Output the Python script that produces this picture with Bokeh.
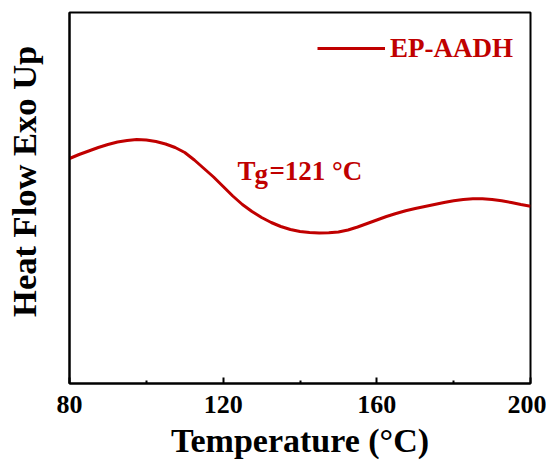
from math import pi
from bokeh.plotting import figure
from bokeh.layouts import row
from bokeh.models import Range1d, FixedTicker, Legend, LegendItem, Label
from bokeh.core.properties import value
from bokeh.embed import file_html
from bokeh.resources import INLINE

# Data (arbitrary heat-flow units, exo up)
temperature = [80, 82.5, 85, 87.5, 90, 92.5, 95, 97.5, 100, 102.5, 105, 107.5,
               110, 112.5, 115, 117.5, 120, 122.5, 125, 127.5, 130, 132.5, 135,
               137.5, 140, 142.5, 145, 147.5, 150, 152.5, 155, 157.5, 160, 162.5,
               165, 167.5, 170, 172.5, 175, 177.5, 180, 182.5, 185, 187.5, 190,
               192.5, 195, 197.5, 200]
heat_flow = [2.25, 2.29, 2.325, 2.36, 2.39, 2.415, 2.43, 2.44, 2.435, 2.42, 2.395,
             2.36, 2.31, 2.235, 2.15, 2.065, 1.97, 1.875, 1.79, 1.72, 1.66, 1.61,
             1.57, 1.54, 1.52, 1.51, 1.505, 1.507, 1.515, 1.535, 1.565, 1.60,
             1.635, 1.67, 1.70, 1.728, 1.75, 1.77, 1.79, 1.81, 1.828, 1.84, 1.847,
             1.847, 1.84, 1.827, 1.81, 1.79, 1.773]
x_ticks = [80, 120, 160, 200]
x_minor = [100, 140, 180]
series_name = "EP-AADH"
tg_value = 121
x_title = "Temperature (\u00b0C)"
y_title = "Heat Flow Exo Up"

RED = "#C00000"
FONT = "Liberation Serif"
H = 459
LEFT_W = 48

# ---- narrow strip holding the vertical y-axis title ----
pl = figure(width=LEFT_W, height=H, output_backend="svg", toolbar_location=None,
            x_range=Range1d(0, LEFT_W), y_range=Range1d(0, H),
            x_axis_location=None, y_axis_location=None,
            min_border=0, min_border_left=0, min_border_right=0,
            min_border_top=0, min_border_bottom=0)
pl.grid.visible = False
pl.outline_line_color = None
pl.text(x=[23], y=[249], text=[y_title], angle=pi / 2,
        text_align="center", text_baseline="middle",
        text_font=value(FONT), text_font_style="bold",
        text_font_size=value("34.5px"), text_color="black")

# ---- main chart ----
p = figure(width=498, height=H, frame_width=461, frame_height=371,
           output_backend="svg", toolbar_location=None,
           x_range=Range1d(80, 200), y_range=Range1d(0, 3.71),
           min_border_left=21, min_border_right=16, min_border_top=12,
           min_border_bottom=60)
p.grid.visible = False
p.background_fill_color = "white"
p.outline_line_color = "black"
p.outline_line_width = 2

r = p.line(temperature, heat_flow, line_color=RED, line_width=3)

# x axis
xa = p.xaxis[0]
xa.ticker = FixedTicker(ticks=x_ticks, minor_ticks=x_minor)
xa.axis_line_width = 2
xa.major_tick_line_width = 2
xa.minor_tick_line_width = 2
xa.major_tick_in = 6
xa.major_tick_out = 0
xa.minor_tick_in = 3
xa.minor_tick_out = 0
xa.major_label_text_font = FONT
xa.major_label_text_font_style = "bold"
xa.major_label_text_font_size = "26px"
xa.major_label_text_color = "black"
xa.major_label_standoff = 12
xa.axis_label = x_title
xa.axis_label_text_font = FONT
xa.axis_label_text_font_style = "bold"
xa.axis_label_text_font_size = "34px"
xa.axis_label_text_color = "black"
xa.axis_label_standoff = 6

# y axis: plain line, no ticks or labels
ya = p.yaxis[0]
ya.ticker = FixedTicker(ticks=[])
ya.axis_line_width = 2
ya.major_tick_line_color = None
ya.minor_tick_line_color = None
ya.major_label_text_font_size = "0px"

# legend
legend = Legend(items=[LegendItem(label=series_name, renderers=[r])],
                location="top_right")
legend.border_line_color = None
legend.background_fill_alpha = 0
legend.margin = 17
legend.padding = 10
legend.glyph_width = 68
legend.glyph_height = 38
legend.label_standoff = 5
legend.label_text_font = FONT
legend.label_text_font_style = "bold"
legend.label_text_font_size = "27px"
legend.label_text_color = RED
p.add_layout(legend)

# Tg annotation
tg_x, tg_y = 123.7, 2.13
common = dict(text_font=FONT, text_font_style="bold", text_font_size="27px",
              text_color=RED, text_baseline="alphabetic")
p.add_layout(Label(x=tg_x, y=tg_y, text="T", **common))
p.add_layout(Label(x=tg_x, y=tg_y, x_offset=17, y_offset=-3, text="g", **common))
p.add_layout(Label(x=tg_x, y=tg_y, x_offset=32, text="=%d \u00b0C" % tg_value, **common))

layout = row(pl, p, spacing=0)
open("out.html", "w").write(file_html(layout, INLINE))
